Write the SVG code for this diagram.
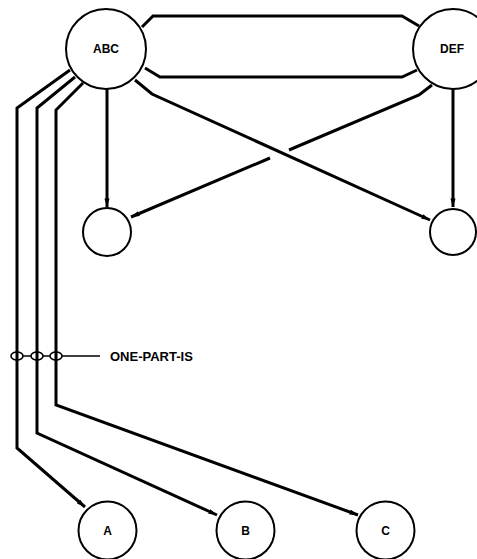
<svg xmlns="http://www.w3.org/2000/svg" width="477" height="559" viewBox="0 0 477 559">
<style>
.node{fill:#fff;stroke:#000;stroke-width:2}
.lbl{font-family:"Liberation Sans",Arial,sans-serif;font-weight:bold;font-size:12px;fill:#000;text-anchor:middle}
.c{fill:none;stroke:#000;stroke-width:3;stroke-linejoin:miter}
.thin{fill:none;stroke:#000;stroke-width:1.6}
</style>
<defs>
<marker id="ah" viewBox="0 0 10 6" refX="10" refY="3" markerWidth="3" markerHeight="1.7" orient="auto" markerUnits="strokeWidth">
<path d="M0,0 L10,3 L0,6 z" fill="#000"/>
</marker>
</defs>
<rect width="477" height="559" fill="#fff"/>
<g id="connectors">
<path class="c" d="M142,27 L153,16 L402,16 L419,26"/>
<path class="c" d="M145,68 L160,77 L402,77 L417,70"/>
<path class="c" marker-end="url(#ah)" d="M107,89 L107,207"/>
<path class="c" marker-end="url(#ah)" d="M453,89 L453,207"/>
<path class="c" marker-end="url(#ah)" d="M135,80 L152,94 L430,220"/>
<path class="c" d="M432,85 L419,95 L289,150"/>
<path class="c" marker-end="url(#ah)" d="M270,158 L131,217"/>
<path class="c" marker-end="url(#ah)" d="M70,70 L17,108 L17,448 L85,507"/>
<path class="c" marker-end="url(#ah)" d="M75,77 L37,108 L37,433 L217,515"/>
<path class="c" marker-end="url(#ah)" d="M83,83 L56,110 L56,405 L358,515"/>
<path class="thin" d="M11,356 a6,4 0 0 0 12,0 M11,356 a6,4 0 0 1 12,0 M23,356 l8,0 M31,356 a6,4 0 0 0 12,0 M31,356 a6,4 0 0 1 12,0 M43,356 l7,0 M50,356 a6,4 0 0 0 12,0 M50,356 a6,4 0 0 1 12,0 M62,356 L100,356"/>
</g>
<g id="ABC"><circle class="node" cx="106" cy="49" r="40"/><text class="lbl" x="106" y="53">ABC</text></g>
<g id="DEF"><circle class="node" cx="453" cy="49" r="40"/><text class="lbl" x="452" y="53">DEF</text></g>
<g id="n1"><circle class="node" cx="107" cy="232" r="24"/></g>
<g id="n2"><circle class="node" cx="453" cy="232" r="23"/></g>
<g id="A"><circle class="node" cx="107.5" cy="530.5" r="29"/><text class="lbl" x="107.5" y="535">A</text></g>
<g id="B"><circle class="node" cx="245.5" cy="530.5" r="29"/><text class="lbl" x="245.5" y="535">B</text></g>
<g id="C"><circle class="node" cx="385.5" cy="530.5" r="29"/><text class="lbl" x="385.5" y="535">C</text></g>
<text x="110" y="361" style="font-family:'Liberation Sans',Arial,sans-serif;font-weight:bold;font-size:13px;fill:#000">ONE-PART-IS</text>
</svg>
